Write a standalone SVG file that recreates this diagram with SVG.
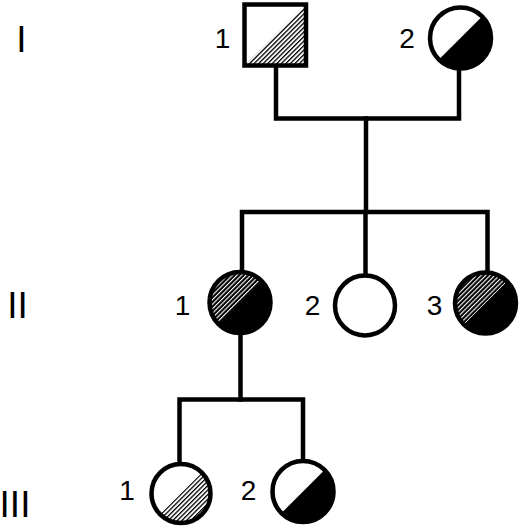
<svg xmlns="http://www.w3.org/2000/svg" width="520" height="529" viewBox="0 0 520 529">
<style>
.ln{fill:none;stroke:#000;stroke-width:4.5;stroke-linejoin:miter;stroke-linecap:square}
.sym{fill:none;stroke:#000;stroke-width:4.5}
.num{font-family:"Liberation Sans",Arial,sans-serif;font-size:28px;fill:#000;text-anchor:middle}
.gen{font-family:"Liberation Sans",Arial,sans-serif;font-size:37px;fill:#000;text-anchor:middle}
</style>
<defs>
<pattern id="hl" width="3.2" height="3.2" patternUnits="userSpaceOnUse" patternTransform="rotate(-45)">
<rect width="3.2" height="3.2" fill="#fff"/>
<rect width="3.2" height="1.3" fill="#000"/>
</pattern>
<pattern id="hd" width="3.2" height="3.2" patternUnits="userSpaceOnUse" patternTransform="rotate(-45)">
<rect width="3.2" height="3.2" fill="#000"/>
<rect width="3.2" height="1.1" fill="#fff"/>
</pattern>
</defs>
<rect width="520" height="529" fill="#fff"/>

<g id="generations">
<text class="gen" x="21.5" y="52">I</text>
<text class="gen" x="17.5" y="318">II</text>
<text class="gen" x="15" y="517">III</text>
</g>

<g id="connectors">
<polyline class="ln" points="276,68 276,118.5 459,118.5 459,70"/>
<line class="ln" x1="366" y1="118.5" x2="366" y2="212"/>
<polyline class="ln" points="242,273 242,212 487.5,212 487.5,272"/>
<line class="ln" x1="365.5" y1="212" x2="365.5" y2="275"/>
<line class="ln" x1="240.5" y1="333" x2="240.5" y2="399.5"/>
<polyline class="ln" points="179.5,464 179.5,399.5 303,399.5 303,460"/>
</g>

<g id="I-1">
<rect x="244.5" y="4.5" width="61.5" height="61" fill="#fff"/>
<polygon points="244.5,65.5 306,4.5 306,65.5" fill="url(#hl)"/>
<rect class="sym" x="244.5" y="4.5" width="61.5" height="61"/>
<text class="num" x="222.5" y="48">1</text>
</g>

<g id="I-2">
<circle cx="460.5" cy="38" r="30.5" fill="#fff"/>
<path d="M482.07,16.43 A30.5,30.5 0 0 1 438.93,59.57 Z" fill="#000"/>
<circle class="sym" cx="460.5" cy="38" r="30.5"/>
<text class="num" x="407" y="48">2</text>
</g>

<g id="II-1">
<circle cx="240" cy="302.5" r="30.5" fill="#000"/>
<path d="M218.43,324.07 A30.5,30.5 0 0 1 261.57,280.93 Z" fill="url(#hd)"/>
<circle class="sym" cx="240" cy="302.5" r="30.5"/>
<text class="num" x="182.5" y="315">1</text>
</g>

<g id="II-2">
<circle class="sym" cx="365" cy="305.5" r="30" fill="#fff"/>
<text class="num" x="312.5" y="315">2</text>
</g>

<g id="II-3">
<circle cx="485.5" cy="303" r="30.5" fill="#000"/>
<path d="M463.93,324.57 A30.5,30.5 0 0 1 507.07,281.43 Z" fill="url(#hd)"/>
<circle class="sym" cx="485.5" cy="303" r="30.5"/>
<text class="num" x="434.5" y="315">3</text>
</g>

<g id="III-1">
<circle cx="181" cy="493.5" r="29.5" fill="#fff"/>
<path d="M201.86,472.64 A29.5,29.5 0 0 1 160.14,514.36 Z" fill="url(#hl)"/>
<circle class="sym" cx="181" cy="493.5" r="29.5"/>
<text class="num" x="127" y="500">1</text>
</g>

<g id="III-2">
<circle cx="303" cy="491.5" r="30.5" fill="#fff"/>
<path d="M324.57,469.93 A30.5,30.5 0 0 1 281.43,513.07 Z" fill="#000"/>
<circle class="sym" cx="303" cy="491.5" r="30.5"/>
<text class="num" x="248.5" y="500">2</text>
</g>
</svg>
